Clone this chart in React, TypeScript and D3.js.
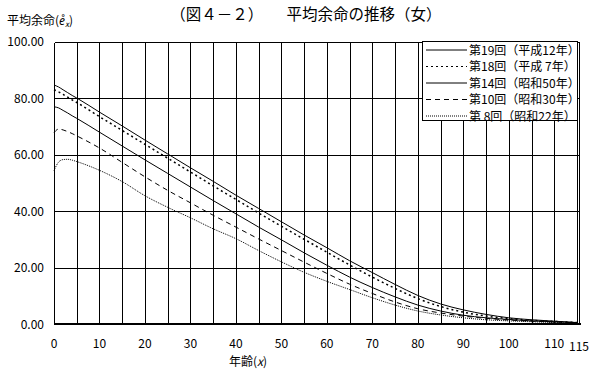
import React from "react";
import * as d3 from "d3";

const ages = [0, 1, 2, 3, 4, 5, 10, 15, 20, 25, 30, 35, 40, 45, 50, 55, 60, 65, 70, 75, 80, 85, 90, 95, 100, 105, 110, 115];
const s19 = [84.6, 83.9, 82.9, 81.9, 80.9, 80.0, 75.0, 70.1, 65.1, 60.2, 55.3, 50.5, 45.6, 40.9, 36.2, 31.5, 27.0, 22.4, 18.2, 14.0, 10.1, 7.1, 5.0, 3.4, 2.2, 1.5, 1.0, 0.5];
const s18 = [82.9, 82.2, 81.3, 80.3, 79.3, 78.4, 73.4, 68.5, 63.6, 58.7, 53.8, 48.9, 44.1, 39.3, 34.6, 30.0, 25.4, 20.9, 16.6, 12.6, 9.0, 6.2, 4.2, 2.8, 1.9, 1.3, 0.9, 0.5];
const s14 = [76.9, 76.5, 75.6, 74.7, 73.7, 72.8, 67.9, 63.0, 58.1, 53.3, 48.5, 43.7, 39.0, 34.3, 29.8, 25.2, 20.8, 16.6, 12.9, 9.6, 6.7, 4.6, 3.1, 2.2, 1.6, 1.1, 0.8, 0.5];
const s10 = [67.7, 69.0, 68.7, 68.1, 67.4, 66.6, 62.3, 57.2, 52.1, 47.3, 42.9, 38.5, 34.3, 30.1, 26.0, 21.9, 17.9, 14.1, 10.8, 7.8, 5.4, 3.9, 2.8, 2.0, 1.4, 1.0, 0.7, 0.4];
const s8 = [54.3, 57.3, 58.2, 58.3, 58.0, 57.5, 54.4, 50.4, 45.4, 41.3, 37.6, 33.7, 30.2, 26.0, 22.0, 18.3, 15.1, 12.2, 9.3, 6.7, 4.6, 3.2, 2.2, 1.5, 1.1, 0.8, 0.5, 0.3];

const seriesNames = [
  "第19回（平成12年）",
  "第18回（平成 7年）",
  "第14回（昭和50年）",
  "第10回（昭和30年）",
  "第 8回（昭和22年）",
];
const seriesValues = [s19, s18, s14, s10, s8];
const seriesDash = ["none", "2,3", "none", "5,4", "1,1"];

const yTicks = [0, 20, 40, 60, 80, 100];
const xGrid = d3.range(0, 116, 5);
const xLabels = [0, 10, 20, 30, 40, 50, 60, 70, 80, 90, 100, 110];

const FONT = "'Noto Sans CJK JP', 'Noto Sans', sans-serif";

export default function App() {
  const x = d3.scaleLinear().domain([0, 115]).range([54, 577]);
  const y = d3.scaleLinear().domain([0, 100]).range([324, 41.5]);
  const px = (v: number) => Math.round(v) + 0.5;

  const line = d3
    .line<number>()
    .x((_, i) => x(ages[i]))
    .y((d) => y(d))
    .curve(d3.curveMonotoneX);

  const legX = 422.5;
  const legY = 41.5;
  const legW = 155;
  const legH = 79;
  const rowY = (i: number) => 50 + i * 16.5;

  return (
    <svg
      width={598}
      height={382}
      style={{ position: "absolute", left: 0, top: 0, background: "#fff" }}
      fontFamily={FONT}
    >
      <rect x={0} y={0} width={598} height={382} fill="#fff" />
      {/* title */}
      <text x={306} y={20} fontSize={15.5} textAnchor="middle" fill="#000" style={{ whiteSpace: "pre" }}>
        （図４－２）　　平均余命の推移（女）
      </text>
      {/* y axis label */}
      <text x={7} y={25} fontSize={12} fill="#000">
        平均余命(
        <tspan fontStyle="italic">e&#778;</tspan>
        <tspan fontSize={8} dy={2} fontStyle="italic">x</tspan>
        <tspan dy={-2}>)</tspan>
      </text>

      {/* grid */}
      <g shapeRendering="crispEdges" stroke="#000">
        {xGrid.map((a) => (
          <line key={"v" + a} x1={px(x(a))} x2={px(x(a))} y1={px(y(100))} y2={px(y(0))} strokeWidth={1} />
        ))}
        {yTicks.slice(1).map((t) => (
          <line key={"h" + t} x1={px(x(0))} x2={580} y1={px(y(t))} y2={px(y(t))} strokeWidth={1} />
        ))}
        <line x1={579.5} x2={579.5} y1={px(y(100))} y2={px(y(0))} strokeWidth={1} />
        <line x1={x(0)} x2={581} y1={y(0)} y2={y(0)} strokeWidth={2} />
      </g>

      {/* y tick labels */}
      {yTicks.map((t) => (
        <text key={"yl" + t} x={44} y={y(t) + 4.5} fontSize={12} textAnchor="end" fill="#000">
          {t.toFixed(2)}
        </text>
      ))}
      {/* x tick labels */}
      {xLabels.map((a) => (
        <text key={"xl" + a} x={x(a)} y={348} fontSize={12} textAnchor="middle" fill="#000">
          {a}
        </text>
      ))}
      <text x={x(115) + 2} y={351} fontSize={12} textAnchor="middle" fill="#000">
        115
      </text>
      <text x={248} y={366} fontSize={12} textAnchor="middle" fill="#000">
        年齢(<tspan fontStyle="italic">x</tspan>)
      </text>

      {/* series */}
      {seriesValues.map((vals, i) => (
        <path
          key={"s" + i}
          d={line(vals) || ""}
          fill="none"
          stroke="#000"
          strokeWidth={i === 1 ? 1.5 : 1}
          strokeDasharray={seriesDash[i]}
        />
      ))}

      {/* legend */}
      <rect x={legX} y={legY} width={legW} height={legH} fill="#fff" stroke="#000" strokeWidth={1} shapeRendering="crispEdges" />
      {seriesNames.map((n, i) => (
        <g key={"lg" + i}>
          <line
            x1={426}
            x2={467}
            y1={rowY(i)}
            y2={rowY(i)}
            stroke="#000"
            strokeWidth={1}
            strokeDasharray={seriesDash[i]}
          />
          <text x={469} y={rowY(i) + 4.5} fontSize={12} fill="#000" style={{ whiteSpace: "pre" }}>
            {n}
          </text>
        </g>
      ))}
    </svg>
  );
}
